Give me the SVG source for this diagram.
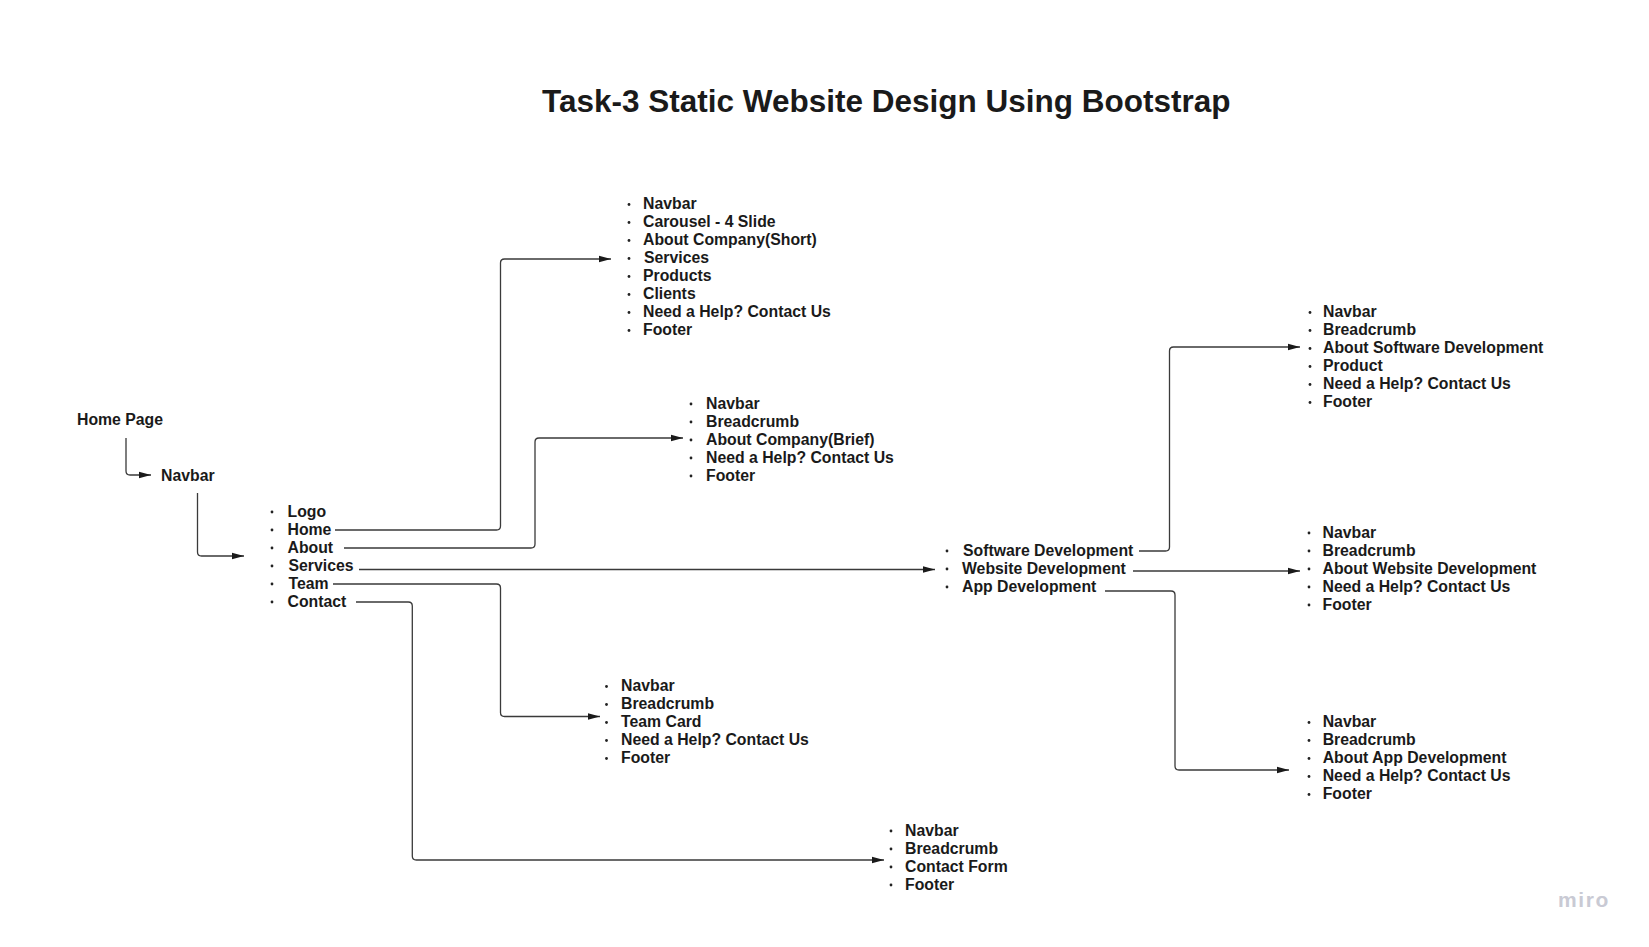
<svg xmlns="http://www.w3.org/2000/svg" width="1649" height="947" viewBox="0 0 1649 947">
<style>
text{font-family:"Liberation Sans",Arial,sans-serif;fill:#1a1a1a}
.t{font-size:15.8px;font-weight:bold}
.title{font-size:31.5px;font-weight:bold}
.c{fill:none;stroke:#3a3a3a;stroke-width:1.3}
.b{fill:#222}
.miro{font-size:21px;font-weight:bold;fill:#c9cad4;letter-spacing:1.6px}
</style>
<defs>
<marker id="ah" viewBox="0 0 12 8" refX="12" refY="4" markerWidth="12" markerHeight="8" markerUnits="userSpaceOnUse" orient="auto">
<path d="M0,0.8 L12,4 L0,7.2 Z" fill="#1a1a1a"/>
</marker>
</defs>
<rect width="1649" height="947" fill="#ffffff"/>
<text class="title" x="542" y="112">Task-3 Static Website Design Using Bootstrap</text>

<g id="connectors">
<path class="c" marker-end="url(#ah)" d="M126,438 V471 Q126,475 130,475 H151"/>
<path class="c" marker-end="url(#ah)" d="M197.5,493 V552 Q197.5,556 201.5,556 H244"/>
<path class="c" marker-end="url(#ah)" d="M335,530 H496.5 Q500.5,530 500.5,526 V263 Q500.5,259 504.5,259 H611"/>
<path class="c" marker-end="url(#ah)" d="M344,548 H531 Q535,548 535,544 V442 Q535,438 539,438 H683"/>
<path class="c" marker-end="url(#ah)" d="M359,569.5 H935"/>
<path class="c" marker-end="url(#ah)" d="M333,584 H496.5 Q500.5,584 500.5,588 V712.5 Q500.5,716.5 504.5,716.5 H600"/>
<path class="c" marker-end="url(#ah)" d="M356,602 H408.3 Q412.3,602 412.3,606 V856 Q412.3,860 416.3,860 H884"/>
<path class="c" marker-end="url(#ah)" d="M1139,551 H1165.5 Q1169.5,551 1169.5,547 V351 Q1169.5,347 1173.5,347 H1300"/>
<path class="c" marker-end="url(#ah)" d="M1133,571 H1300"/>
<path class="c" marker-end="url(#ah)" d="M1105,591 H1171 Q1175,591 1175,595 V766 Q1175,770 1179,770 H1289"/>
</g>

<g id="home-page"><text class="t" x="77" y="425">Home Page</text></g>
<g id="navbar"><text class="t" x="161" y="481">Navbar</text></g>

<g id="nav-items">
<circle class="b" cx="272" cy="512" r="1.4"/><text class="t" x="287.5" y="516.5">Logo</text>
<circle class="b" cx="272" cy="530" r="1.4"/><text class="t" x="287.5" y="534.5">Home</text>
<circle class="b" cx="272" cy="548" r="1.4"/><text class="t" x="287.5" y="552.5">About</text>
<circle class="b" cx="272" cy="566" r="1.4"/><text class="t" x="288.5" y="570.5">Services</text>
<circle class="b" cx="272" cy="584" r="1.4"/><text class="t" x="288.5" y="588.5">Team</text>
<circle class="b" cx="272" cy="602" r="1.4"/><text class="t" x="287.5" y="606.5">Contact</text>
</g>

<g id="home-sections">
<circle class="b" cx="629" cy="204.5" r="1.4"/><text class="t" x="643" y="209">Navbar</text>
<circle class="b" cx="629" cy="222.5" r="1.4"/><text class="t" x="643" y="227">Carousel - 4 Slide</text>
<circle class="b" cx="629" cy="240.5" r="1.4"/><text class="t" x="643" y="245">About Company(Short)</text>
<circle class="b" cx="629" cy="258.5" r="1.4"/><text class="t" x="644" y="263">Services</text>
<circle class="b" cx="629" cy="276.5" r="1.4"/><text class="t" x="643" y="281">Products</text>
<circle class="b" cx="629" cy="294.5" r="1.4"/><text class="t" x="643" y="299">Clients</text>
<circle class="b" cx="629" cy="312.5" r="1.4"/><text class="t" x="643" y="317">Need a Help? Contact Us</text>
<circle class="b" cx="629" cy="330.5" r="1.4"/><text class="t" x="643" y="335">Footer</text>
</g>

<g id="about-sections">
<circle class="b" cx="691" cy="404" r="1.4"/><text class="t" x="706" y="408.5">Navbar</text>
<circle class="b" cx="691" cy="422" r="1.4"/><text class="t" x="706" y="426.5">Breadcrumb</text>
<circle class="b" cx="691" cy="440" r="1.4"/><text class="t" x="706" y="444.5">About Company(Brief)</text>
<circle class="b" cx="691" cy="458" r="1.4"/><text class="t" x="706" y="462.5">Need a Help? Contact Us</text>
<circle class="b" cx="691" cy="476" r="1.4"/><text class="t" x="706" y="480.5">Footer</text>
</g>

<g id="services-list">
<circle class="b" cx="947" cy="551" r="1.4"/><text class="t" x="963" y="555.5">Software Development</text>
<circle class="b" cx="947" cy="569" r="1.4"/><text class="t" x="962" y="573.5">Website Development</text>
<circle class="b" cx="947" cy="587" r="1.4"/><text class="t" x="962" y="591.5">App Development</text>
</g>

<g id="software-sections">
<circle class="b" cx="1310" cy="312.5" r="1.4"/><text class="t" x="1323" y="317">Navbar</text>
<circle class="b" cx="1310" cy="330.5" r="1.4"/><text class="t" x="1323" y="335">Breadcrumb</text>
<circle class="b" cx="1310" cy="348.5" r="1.4"/><text class="t" x="1323" y="353">About Software Development</text>
<circle class="b" cx="1310" cy="366.5" r="1.4"/><text class="t" x="1323" y="371">Product</text>
<circle class="b" cx="1310" cy="384.5" r="1.4"/><text class="t" x="1323" y="389">Need a Help? Contact Us</text>
<circle class="b" cx="1310" cy="402.5" r="1.4"/><text class="t" x="1323" y="407">Footer</text>
</g>

<g id="website-sections">
<circle class="b" cx="1309" cy="533" r="1.4"/><text class="t" x="1322.5" y="537.5">Navbar</text>
<circle class="b" cx="1309" cy="551" r="1.4"/><text class="t" x="1322.5" y="555.5">Breadcrumb</text>
<circle class="b" cx="1309" cy="569" r="1.4"/><text class="t" x="1322.5" y="573.5">About Website Development</text>
<circle class="b" cx="1309" cy="587" r="1.4"/><text class="t" x="1322.5" y="591.5">Need a Help? Contact Us</text>
<circle class="b" cx="1309" cy="605" r="1.4"/><text class="t" x="1322.5" y="609.5">Footer</text>
</g>

<g id="app-sections">
<circle class="b" cx="1309" cy="722.5" r="1.4"/><text class="t" x="1322.7" y="727">Navbar</text>
<circle class="b" cx="1309" cy="740.5" r="1.4"/><text class="t" x="1322.7" y="745">Breadcrumb</text>
<circle class="b" cx="1309" cy="758.5" r="1.4"/><text class="t" x="1322.7" y="763">About App Development</text>
<circle class="b" cx="1309" cy="776.5" r="1.4"/><text class="t" x="1322.7" y="781">Need a Help? Contact Us</text>
<circle class="b" cx="1309" cy="794.5" r="1.4"/><text class="t" x="1322.7" y="799">Footer</text>
</g>

<g id="team-sections">
<circle class="b" cx="606.5" cy="686.5" r="1.4"/><text class="t" x="621" y="691">Navbar</text>
<circle class="b" cx="606.5" cy="704.5" r="1.4"/><text class="t" x="621" y="709">Breadcrumb</text>
<circle class="b" cx="606.5" cy="722.5" r="1.4"/><text class="t" x="621" y="727">Team Card</text>
<circle class="b" cx="606.5" cy="740.5" r="1.4"/><text class="t" x="621" y="745">Need a Help? Contact Us</text>
<circle class="b" cx="606.5" cy="758.5" r="1.4"/><text class="t" x="621" y="763">Footer</text>
</g>

<g id="contact-sections">
<circle class="b" cx="891" cy="831" r="1.4"/><text class="t" x="905" y="835.5">Navbar</text>
<circle class="b" cx="891" cy="849" r="1.4"/><text class="t" x="905" y="853.5">Breadcrumb</text>
<circle class="b" cx="891" cy="867" r="1.4"/><text class="t" x="905" y="871.5">Contact Form</text>
<circle class="b" cx="891" cy="885" r="1.4"/><text class="t" x="905" y="889.5">Footer</text>
</g>

<text class="miro" x="1558" y="906.5">miro</text>
</svg>
